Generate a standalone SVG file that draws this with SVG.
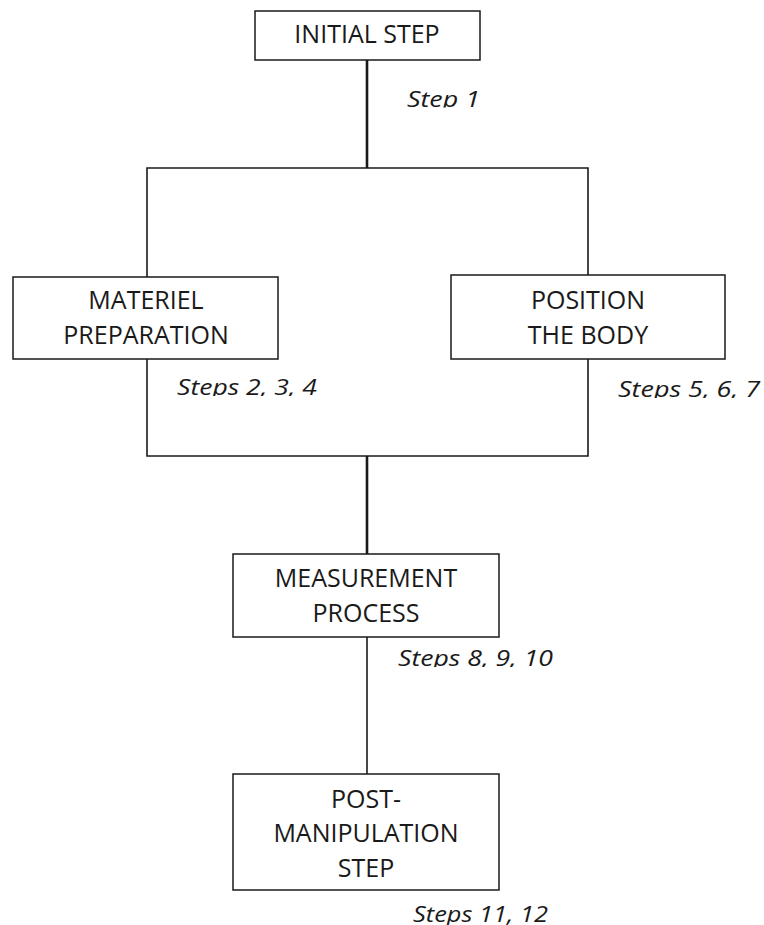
<svg xmlns="http://www.w3.org/2000/svg" width="764" height="925" viewBox="0 0 764 925">
<style>
.box{fill:#fff;stroke:#1a1a1a;stroke-width:1.5}
.t{font-family:"Open Sans","Liberation Sans",sans-serif;font-size:25px;fill:#1a1a1a;text-anchor:middle}
.lab{font-family:"Open Sans","Liberation Sans",sans-serif;font-size:21px;font-style:italic;fill:#1a1a1a}
.ln{fill:none;stroke:#1a1a1a;stroke-width:1.6}
.thick{stroke-width:2.6}
</style>
<defs>
<clipPath id="c1"><rect x="0" y="0" width="764" height="107.5"/></clipPath>
<clipPath id="c2"><rect x="0" y="0" width="764" height="396"/></clipPath>
<clipPath id="c3"><rect x="0" y="0" width="764" height="398"/></clipPath>
<clipPath id="c4"><rect x="0" y="0" width="764" height="667"/></clipPath>
</defs>
<rect width="764" height="925" fill="#fff"/>
<g id="connectors">
<line class="ln thick" x1="367" y1="60" x2="367" y2="168"/>
<polyline class="ln" points="147,277 147,168 588,168 588,275"/>
<polyline class="ln" points="147,359 147,456 588,456 588,359"/>
<line class="ln thick" x1="367" y1="456" x2="367" y2="554"/>
<line class="ln" x1="367" y1="637" x2="367" y2="774"/>
</g>
<g id="initial">
<rect class="box" x="255" y="11" width="225" height="49"/>
<text class="t" x="367" y="43">INITIAL STEP</text>
<text class="lab" x="407" y="107" clip-path="url(#c1)" textLength="73" lengthAdjust="spacingAndGlyphs">Step 1</text>
</g>
<g id="materiel">
<rect class="box" x="13" y="277" width="265" height="82"/>
<text class="t" x="146" y="309">MATERIEL</text>
<text class="t" x="146" y="344">PREPARATION</text>
<text class="lab" x="177" y="395" clip-path="url(#c2)" textLength="140" lengthAdjust="spacingAndGlyphs">Steps 2, 3, 4</text>
</g>
<g id="position">
<rect class="box" x="451" y="275" width="274" height="84"/>
<text class="t" x="588" y="309">POSITION</text>
<text class="t" x="588" y="344">THE BODY</text>
<text class="lab" x="618" y="397" clip-path="url(#c3)" textLength="142" lengthAdjust="spacingAndGlyphs">Steps 5, 6, 7</text>
</g>
<g id="measurement">
<rect class="box" x="233" y="554" width="266" height="83"/>
<text class="t" x="366" y="587">MEASUREMENT</text>
<text class="t" x="366" y="622">PROCESS</text>
<text class="lab" x="398" y="666" clip-path="url(#c4)" textLength="155" lengthAdjust="spacingAndGlyphs">Steps 8, 9, 10</text>
</g>
<g id="post">
<rect class="box" x="233" y="774" width="266" height="116"/>
<text class="t" x="366" y="808">POST-</text>
<text class="t" x="366" y="842">MANIPULATION</text>
<text class="t" x="366" y="877">STEP</text>
<text class="lab" x="413" y="922" textLength="135" lengthAdjust="spacingAndGlyphs">Steps 11, 12</text>
</g>
</svg>
